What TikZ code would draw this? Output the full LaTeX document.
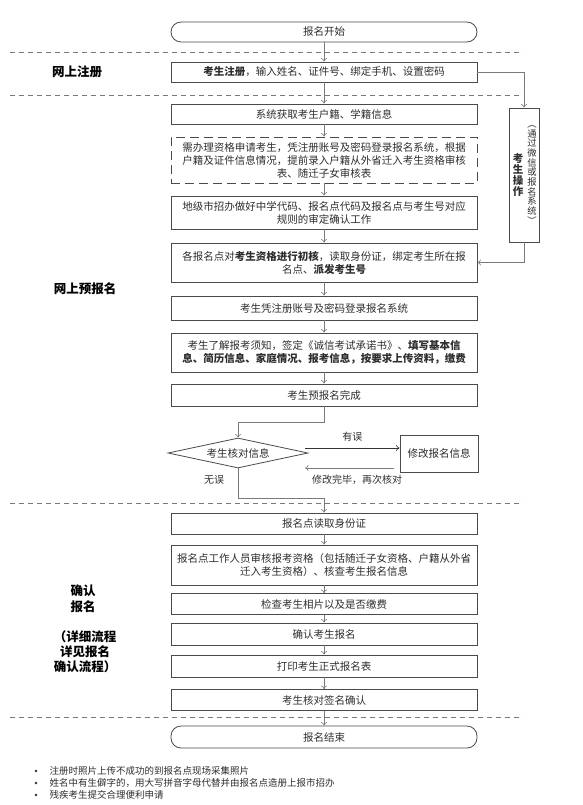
\documentclass[tikz,border=0pt]{standalone}
\usepackage{fontspec}
\setmainfont{Noto Sans CJK SC}
\usetikzlibrary{arrows.meta,shapes.geometric,calc}
\definecolor{boxline}{HTML}{4A4A4A}
\definecolor{arrline}{HTML}{7A7A7A}
\definecolor{txt}{HTML}{2E2E2E}
\tikzset{
  stepbox/.style={draw=boxline,line width=0.8pt,minimum width=306pt,inner sep=0pt,align=center,
     font=\fontsize{10.5}{13}\selectfont,text=txt},
  termbox/.style={stepbox,rounded corners=10pt},
  dashbox/.style={stepbox,dash pattern=on 9pt off 5pt},
  arr/.style={draw=arrline,line width=0.6pt,-{To[length=3.5pt,width=6pt]}},
  sepline/.style={draw=arrline,line width=0.7pt,dash pattern=on 5pt off 4pt},
  sidelabel/.style={font=\fontsize{12.5}{15.5}\selectfont\bfseries,text=black,align=center},
  edgelabel/.style={font=\fontsize{10}{12}\selectfont,text=txt},
  notetext/.style={font=\fontsize{9.5}{12.5}\selectfont,text=txt,anchor=west},
  bulletdot/.style={circle,fill=txt,inner sep=0pt,minimum size=2.6pt}
}
\begin{document}
\begin{tikzpicture}[x=1pt,y=-1pt]
\useasboundingbox[fill=white] (0,0) rectangle (583,805);

% separators
\coordinate (s1a) at (10,52);  \coordinate (s1b) at (523,52);
\coordinate (s2a) at (10,95);  \coordinate (s2b) at (523,95);
\coordinate (s3a) at (10,503); \coordinate (s3b) at (523,503);
\coordinate (s4a) at (10,717); \coordinate (s4b) at (523,717);
\draw[sepline] (s1a) -- (s1b);
\draw[sepline] (s2a) -- (s2b);
\draw[sepline] (s3a) -- (s3b);
\draw[sepline] (s4a) -- (s4b);

% side labels
\node[sidelabel] (lab1) at (77,72) {网上注册};
\node[sidelabel] (lab2) at (85,289) {网上预报名};
\node[sidelabel] (lab3) at (83,599) {确认\\报名};
\node[sidelabel,font=\fontsize{12.5}{15}\selectfont\bfseries] (lab4) at (85,652) {（详细流程\\详见报名\\确认流程）};

% main boxes
\node[termbox,minimum height=20pt] (start) at (324,32) {报名开始};
\node[stepbox,minimum height=20pt] (reg) at (324,72) {\textbf{考生注册}，输入姓名、证件号、绑定手机、设置密码};
\node[stepbox,minimum height=20pt] (sys) at (324,114) {系统获取考生户籍、学籍信息};
\node[dashbox,minimum height=46pt] (apply) at (324,160) {需办理资格申请考生，凭注册账号及密码登录报名系统，根据\\户籍及证件信息情况，提前录入户籍从外省迁入考生资格审核\\表、随迁子女审核表};
\node[stepbox,minimum height=33pt] (city) at (324,212.5) {地级市招办做好中学代码、报名点代码及报名点与考生号对应\\规则的审定确认工作};
\node[stepbox,minimum height=39pt] (init) at (324,262.5) {各报名点对\textbf{考生资格进行初核}，读取身份证，绑定考生所在报\\名点、\textbf{派发考生号}};
\node[stepbox,minimum height=24pt] (login) at (324,308) {考生凭注册账号及密码登录报名系统};
\node[stepbox,minimum height=39pt] (fill) at (324,352.5) {考生了解报考须知，签定《诚信考试承诺书》、\textbf{填写基本信}\\\textbf{息、简历信息、家庭情况、报考信息，按要求上传资料，缴费}};
\node[stepbox,minimum height=22pt] (done) at (324,395) {考生预报名完成};
\node[draw=boxline,line width=0.8pt,diamond,aspect=4.7,minimum width=140pt,minimum height=30pt,inner sep=0pt,
      font=\fontsize{10.5}{13}\selectfont,text=txt] (check) at (238,453) {考生核对信息};
\node[stepbox,minimum width=78pt,minimum height=37pt] (modify) at (439,453.5) {修改报名信息};
\node[stepbox,minimum height=21pt] (read) at (324,523.5) {报名点读取身份证};
\node[stepbox,minimum height=40pt] (staff) at (324,565) {报名点工作人员审核报考资格（包括随迁子女资格、户籍从外省\\迁入考生资格）、核查考生报名信息};
\node[stepbox,minimum height=21pt] (photo) at (324,604) {检查考生相片以及是否缴费};
\node[stepbox,minimum height=22pt] (confirm) at (324,634) {确认考生报名};
\node[stepbox,minimum height=22pt] (print) at (324,666) {打印考生正式报名表};
\node[stepbox,minimum height=21pt] (sign) at (324,700) {考生核对签名确认};
\node[termbox,minimum height=22pt] (end) at (324,737) {报名结束};

% right side box
\node[draw=boxline,line width=0.8pt,minimum width=30pt,minimum height=134pt,inner sep=0pt] (side) at (524,175) {};
\node[font=\fontsize{10.5}{11.2}\selectfont\bfseries,text=txt,align=center,inner sep=0pt] (sidea) at (518,175) {考\\生\\操\\作};
\node[font=\fontsize{9.3}{9.7}\selectfont,text=txt,align=center,inner sep=0pt] (sideb) at (532,175) {︵\\通\\过\\微\\信\\或\\报\\名\\系\\统\\︶};

% vertical flow arrows
\draw[arr] (start) -- (reg);
\draw[arr] (reg) -- (sys);
\draw[arr] (sys) -- (apply);
\draw[arr] (apply) -- (city);
\draw[arr] (city) -- (init);
\draw[arr] (init) -- (login);
\draw[arr] (login) -- (fill);
\draw[arr] (fill) -- (done);
\draw[arr] (read) -- (staff);
\draw[arr] (staff) -- (photo);
\draw[arr] (photo) -- (confirm);
\draw[arr] (confirm) -- (print);
\draw[arr] (print) -- (sign);
\draw[arr] (sign) -- (end);

% side branch
\draw[arr] (reg.east) -| (side.north);
\draw[arr] (side.south) |- (init.east);

% done -> check
\coordinate (d1) at (324,422);
\coordinate (d2) at (238,422);
\draw[arr] (done.south) -- (d1) -- (d2) -- (check.north);

% check -> read
\coordinate (c1) at (238,498);
\coordinate (c2) at (324,498);
\draw[arr] (check.south) -- (c1) -- (c2) -- (read.north);

% error loop
\coordinate (e1) at (305,448);
\coordinate (e2) at (305,468);
\coordinate (e3) at (394,468);
\draw[arr,draw=black!80] (e1) -- (e1 -| modify.west) node[midway,above=3pt,edgelabel] (lbl1) {有误};
\draw[arr] (e3) -- (e2);
\node[edgelabel] (lbl2) at (357,480) {修改完毕，再次核对};
\node[edgelabel] (lbl3) at (214,480) {无误};

% notes
\node[bulletdot] (b1) at (36,771) {};
\node[bulletdot] (b2) at (36,783) {};
\node[bulletdot] (b3) at (36,795) {};
\node[notetext] (n1) at (46,771) {注册时照片上传不成功的到报名点现场采集照片};
\node[notetext] (n2) at (46,783) {姓名中有生僻字的，用大写拼音字母代替并由报名点造册上报市招办};
\node[notetext] (n3) at (46,795) {残疾考生提交合理便利申请};
\end{tikzpicture}
\end{document}
